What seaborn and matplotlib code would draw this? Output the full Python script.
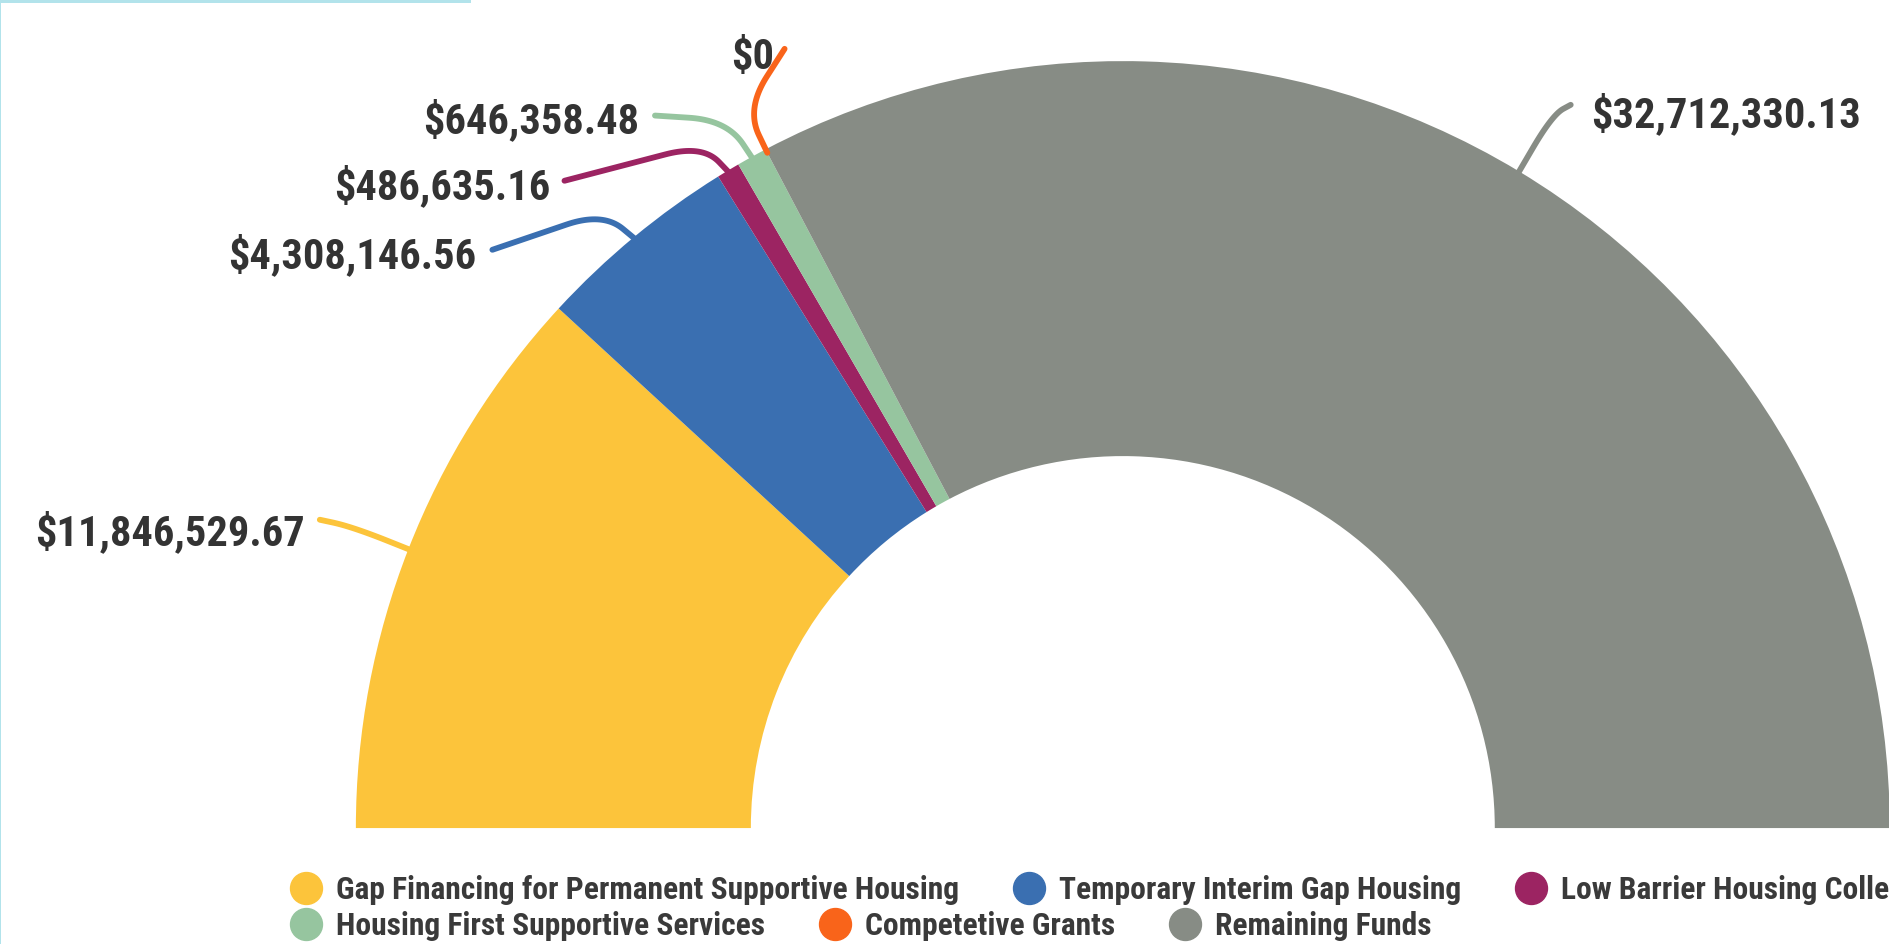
import numpy as np
import matplotlib
matplotlib.use("Agg")
import matplotlib.pyplot as plt
import seaborn as sns
from matplotlib.lines import Line2D
from matplotlib.patches import Rectangle

# Daten
categories = [
    "Gap Financing for Permanent Supportive Housing",
    "Temporary Interim Gap Housing",
    "Low Barrier Housing Collective",
    "Housing First Supportive Services",
    "Competetive Grants",
    "Remaining Funds",
]
amounts = [11846529.67, 4308146.56, 486635.16, 646358.48, 0.0, 32712330.13]
value_labels = ["$11,846,529.67", "$4,308,146.56", "$486,635.16", "$646,358.48", "$0", "$32,712,330.13"]
colors = ["#FCC43B", "#3A6FB1", "#9C2462", "#96C59F", "#F9641A", "#878C85"]

# Layout der Beschriftungen (Datenkoordinaten): Text, Knickpunkt, Linienende, Ausrichtung
label_text_xy = [(-1.066, 0.385), (-0.843, 0.746), (-0.747, 0.836), (-0.631, 0.922), (-0.455, 1.005), (0.610, 0.930)]
label_elbow_xy = [(-1.005, 0.393), (-0.678, 0.803), (-0.548, 0.891), (-0.516, 0.923), (-0.491, 0.938), (0.560, 0.930)]
label_end_xy = [(-1.047, 0.402), (-0.822, 0.754), (-0.728, 0.844), (-0.610, 0.929), (-0.441, 1.016), (0.584, 0.943)]
label_ha = ["right", "right", "right", "right", "right", "left"]

INNER = 0.485
FONT = ["Roboto Condensed", "DejaVu Sans"]

sns.set_theme(style="white")
plt.rcParams["font.family"] = FONT
palette = sns.color_palette(colors)


def rounded_leader(p0, pk, p2, rc=0.05, n=24):
    # Linie p0 -> Knick pk -> p2 mit abgerundeter Ecke
    p0, pk, p2 = map(np.asarray, (p0, pk, p2))
    d0 = p0 - pk
    d2 = p2 - pk
    a = pk + d0 / np.linalg.norm(d0) * min(rc, 0.6 * np.linalg.norm(d0))
    b = pk + d2 / np.linalg.norm(d2) * min(rc, 0.6 * np.linalg.norm(d2))
    t = np.linspace(0, 1, n)[:, None]
    curve = (1 - t) ** 2 * a + 2 * (1 - t) * t * pk + t ** 2 * b
    pts = np.vstack([p0, curve, p2])
    return pts[:, 0], pts[:, 1]


fig = plt.figure(figsize=(18.9, 9.44), dpi=100)
ax = fig.add_axes([0, 0, 1, 1])

total = sum(amounts)
wedges, _ = ax.pie(
    amounts + [total],
    colors=list(palette) + ["white"],
    startangle=180,
    counterclock=False,
    radius=1.0,
    wedgeprops=dict(width=1 - INNER, edgecolor="none", linewidth=0),
)
wedges[-1].set_visible(False)

ax.set_xlim(-1.464, 1.0003)
ax.set_ylim(-0.151, 1.0795)
ax.axis("off")

# Beschriftungen mit Führungslinien
for w, col, txt, txy, kxy, exy, ha in zip(wedges[:-1], palette, value_labels,
                                           label_text_xy, label_elbow_xy, label_end_xy, label_ha):
    ang = np.deg2rad((w.theta1 + w.theta2) / 2)
    start = (np.cos(ang) * 0.995, np.sin(ang) * 0.995)
    xs, ys = rounded_leader(start, kxy, exy)
    ax.plot(xs, ys, color=col, lw=4.2, solid_capstyle="round", solid_joinstyle="round", zorder=1)
    ax.text(txy[0], txy[1], txt, ha=ha, va="center", fontsize=30.5, fontweight="bold",
            color="#333333")

# Legende in zwei Zeilen
handles = [Line2D([], [], marker="o", ls="", markersize=23, markerfacecolor=c, markeredgecolor=c)
           for c in palette]
leg_kw = dict(frameon=False, handletextpad=0.45, handlelength=1.0,
              columnspacing=1.72, borderpad=0, borderaxespad=0, labelcolor="#3a3a3a",
              prop=dict(family=FONT, weight="bold", size=22.7))
leg1 = fig.legend(handles[:3], categories[:3], ncol=3, loc="center left",
                  bbox_to_anchor=(290 / 1890, 1 - 890 / 944), **leg_kw)
leg2 = fig.legend(handles[3:], categories[3:], ncol=3, loc="center left",
                  bbox_to_anchor=(290 / 1890, 1 - 926 / 944), **leg_kw)

# hellblauer Rahmen oben links
fig.add_artist(Rectangle((0, 1 - 3 / 944), 471 / 1890, 3 / 944, transform=fig.transFigure,
                         color="#B2E3EB", lw=0))
fig.add_artist(Rectangle((0, 0), 1.5 / 1890, 1, transform=fig.transFigure,
                         color="#B2E3EB", lw=0))

fig.savefig("out.png", dpi=100)
